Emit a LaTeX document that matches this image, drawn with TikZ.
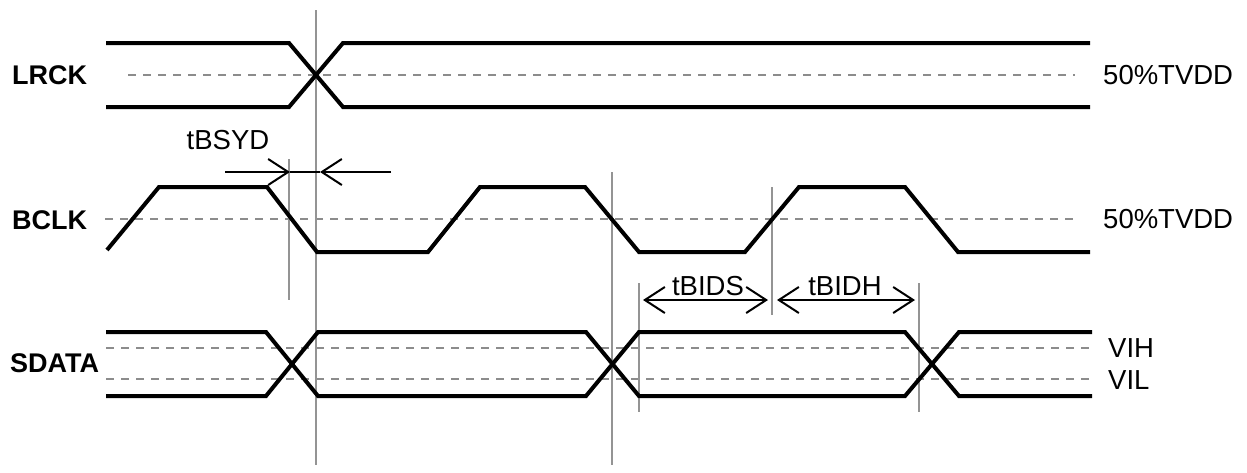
\documentclass[tikz,border=0pt]{standalone}
\usepackage{fontspec}
\setmainfont{Liberation Sans}
\usetikzlibrary{arrows.meta}
\definecolor{guidec}{gray}{0.58}
\definecolor{refc}{gray}{0.55}
\begin{document}
\begin{tikzpicture}[x=1pt,y=-1pt,
  wave/.style={line width=4pt, line join=miter},
  refl/.style={refc, line width=1.5pt, dash pattern=on 8pt off 7pt},
  guide/.style={guidec, line width=1.5pt},
  barb/.tip={Straight Barb[length=20pt,width=26pt,line width=2pt]},
  dimarrow/.style={line width=2pt, -barb},
  dimboth/.style={line width=2pt, barb-barb},
  lbl/.style={font=\fontsize{27.5}{30}\selectfont, inner sep=0pt},
  sig/.style={font=\bfseries\fontsize{27}{30}\selectfont, inner sep=0pt}]
\useasboundingbox (0,0) rectangle (1247,472);

% signal names
\node[sig, anchor=west] (lrck) at (12,75) {LRCK};
\node[sig, anchor=west] (bclk) at (12,220) {BCLK};
\node[sig, anchor=west] (sdata) at (10,363) {SDATA};

% level labels
\node[lbl, anchor=west] (lv1) at (1103,75) {50\%TVDD};
\node[lbl, anchor=west] (lv2) at (1103,219) {50\%TVDD};
\node[lbl, anchor=west] (vih) at (1108,348) {VIH};
\node[lbl, anchor=west] (vil) at (1108,380) {VIL};

% reference (dashed) levels
\draw[refl] (128,75) -- (1075,75);
\draw[refl] (105,219) -- (1078,219);
\draw[refl] (106,348) -- (1092,348);
\draw[refl] (106,379) -- (1092,379);

% guide lines
\draw[guide] (316,10) -- (316,465);
\draw[guide] (289,159) -- (289,300);
\draw[guide] (612,172) -- (612,465);
\draw[guide] (772,187) -- (772,315);
\draw[guide] (639,283) -- (639,412);
\draw[guide] (919,283) -- (919,412);

% LRCK
\draw[wave] (106,43) -- (289,43) -- (343,107) -- (1090,107);
\draw[wave] (106,107) -- (289,107) -- (343,43) -- (1090,43);

% BCLK
\draw[wave] (107,250) -- (159,187) -- (267,187) -- (317,252) -- (428,252)
  -- (480,187) -- (585,187) -- (639,252) -- (745,252) -- (799,187)
  -- (905,187) -- (958,252) -- (1090,252);

% SDATA
\draw[wave] (106,332) -- (266,332) -- (318,396) -- (586,396) -- (639,332)
  -- (905,332) -- (959,396) -- (1092,396);
\draw[wave] (106,396) -- (266,396) -- (318,332) -- (586,332) -- (639,396)
  -- (905,396) -- (959,332) -- (1092,332);

% tBSYD
\coordinate (sy1) at (225,172);
\coordinate (sy2) at (290,172);
\coordinate (sy3) at (320,172);
\coordinate (sy4) at (391,172);
\draw[line width=1.2pt] (sy2) -- (sy3);
\draw[dimarrow] (sy1) -- (sy2);
\draw[dimarrow] (sy4) -- (sy3);
\node[lbl] (tbsyd) at (228,140) {tBSYD};

% tBIDS / tBIDH
\coordinate (ds1) at (643,300);
\coordinate (ds2) at (768,300);
\coordinate (dh1) at (777,300);
\coordinate (dh2) at (915,300);
\draw[dimboth] (ds1) -- (ds2);
\draw[dimboth] (dh1) -- (dh2);
\node[lbl] (tbids) at (708,286) {tBIDS};
\node[lbl] (tbidh) at (845,286) {tBIDH};
\end{tikzpicture}
\end{document}
